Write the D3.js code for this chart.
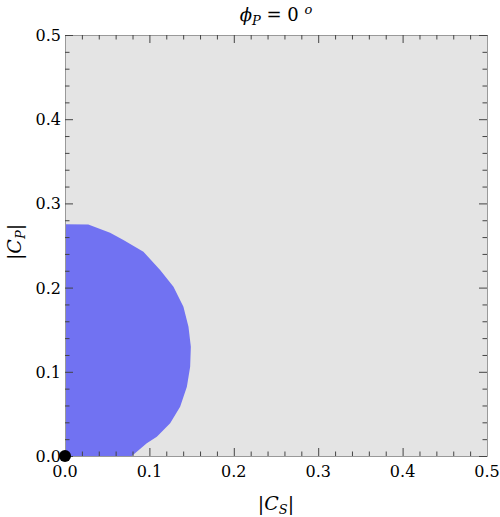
<!DOCTYPE html>
<html><head><meta charset="utf-8">
<script src="https://cdn.jsdelivr.net/npm/d3@7"></script>
<style>body{margin:0;background:#fff}svg{display:block}</style>
</head><body>
<svg id="c" width="500" height="517"></svg>
<script>
const xDomain = [0, 0.5];
const yDomain = [0, 0.5];
const majorTicks = [0, 0.1, 0.2, 0.3, 0.4, 0.5];
const tickLabels = ["0.0", "0.1", "0.2", "0.3", "0.4", "0.5"];
// boundary of allowed region (|C_S|, |C_P|)
const regionCS = [0, 0.0276, 0.0534, 0.0692, 0.0929, 0.1127, 0.1285, 0.1403, 0.1463, 0.1491, 0.1483, 0.1444, 0.1364, 0.1246, 0.1088, 0.0969, 0.0791, 0];
const regionCP = [0.2752, 0.275, 0.2652, 0.2565, 0.2426, 0.2209, 0.2011, 0.1773, 0.1536, 0.1298, 0.1061, 0.0823, 0.0586, 0.0388, 0.0229, 0.0151, 0, 0];
const pointCS = [0];
const pointCP = [0];

const FF = "DejaVu Serif";
const svg = d3.select("#c");
const L = 65, R = 487, T = 35, B = 456;
const x = d3.scaleLinear().domain(xDomain).range([L, R]);
const y = d3.scaleLinear().domain(yDomain).range([B, T]);

svg.append("defs").append("clipPath").attr("id","pc").append("rect")
  .attr("x", L).attr("y", T).attr("width", R-L).attr("height", B-T);

svg.append("rect").attr("x", L).attr("y", T).attr("width", R-L).attr("height", B-T).attr("fill", "#e4e4e4");

const pts = regionCS.map((d,i)=>[d, regionCP[i]]);
svg.append("path").attr("clip-path","url(#pc)")
  .attr("d", d3.line().x(d=>x(d[0])).y(d=>y(d[1])).curve(d3.curveLinearClosed)(pts))
  .attr("fill", "#7172f2");

// axes with inward ticks
const minor = d3.range(0, 0.5001, 0.02);
const isMajor = v => Math.abs(v*10 - Math.round(v*10)) < 1e-6;
function styleAxis(sel) {
  sel.selectAll("text").remove();
  sel.select(".domain").attr("stroke", "#999");
  sel.selectAll(".tick line").attr("stroke", "#444")
    .attr("x2", function(){ const v = +d3.select(this).attr("x2"); return v ? (v > 0 ? 1 : -1) * (isMajor(d3.select(this.parentNode).datum()) ? 8 : 4.5) : v; })
    .attr("y2", function(){ const v = +d3.select(this).attr("y2"); return v ? (v > 0 ? 1 : -1) * (isMajor(d3.select(this.parentNode).datum()) ? 8 : 4.5) : v; });
}
svg.append("g").attr("transform", `translate(0,${B})`)
  .call(d3.axisTop(x).tickValues(minor).tickSizeOuter(0)).call(styleAxis);
svg.append("g").attr("transform", `translate(0,${T})`)
  .call(d3.axisBottom(x).tickValues(minor).tickSizeOuter(0)).call(styleAxis);
svg.append("g").attr("transform", `translate(${L},0)`)
  .call(d3.axisRight(y).tickValues(minor).tickSizeOuter(0)).call(styleAxis);
svg.append("g").attr("transform", `translate(${R},0)`)
  .call(d3.axisLeft(y).tickValues(minor).tickSizeOuter(0)).call(styleAxis);

// tick labels
majorTicks.forEach((v,i) => {
  svg.append("text").style("font-family", FF).attr("x", x(v)).attr("y", B+21).attr("text-anchor","middle")
    .attr("font-size", 16).text(tickLabels[i]);
  svg.append("text").style("font-family", FF).attr("x", L-4).attr("y", y(v)+6).attr("text-anchor","end")
    .attr("font-size", 16).text(tickLabels[i]);
});

// point
svg.selectAll("circle.pt").data(pointCS).enter().append("circle")
  .attr("cx", (d,i)=>x(d)).attr("cy", (d,i)=>y(pointCP[i])).attr("r", 6).attr("fill","#000");

// title
const t = svg.append("text").style("font-family", FF).attr("x", 276).attr("y", 21).attr("text-anchor","middle").attr("font-size", 18);
t.append("tspan").attr("font-style","italic").text("ϕ");
t.append("tspan").attr("font-style","italic").attr("font-size", 13).attr("dy", 4).text("P");
t.append("tspan").attr("dy", -4).text(" = 0 ");
t.append("tspan").attr("font-style","italic").attr("font-size", 13).attr("dy", -7).text("o");

// x label
const xl = svg.append("text").style("font-family", FF).attr("x", 276).attr("y", 510).attr("text-anchor","middle").attr("font-size", 19);
xl.append("tspan").text("|");
xl.append("tspan").attr("font-style","italic").text("C");
xl.append("tspan").attr("font-style","italic").attr("font-size", 13).attr("dy", 4).text("S");
xl.append("tspan").attr("dy", -4).text("|");

// y label
const yl = svg.append("text").style("font-family", FF).attr("transform","translate(21,242) rotate(-90)").attr("text-anchor","middle").attr("font-size", 19);
yl.append("tspan").text("|");
yl.append("tspan").attr("font-style","italic").text("C");
yl.append("tspan").attr("font-style","italic").attr("font-size", 13).attr("dy", 4).text("P");
yl.append("tspan").attr("dy", -4).text("|");
</script>
</body></html>
